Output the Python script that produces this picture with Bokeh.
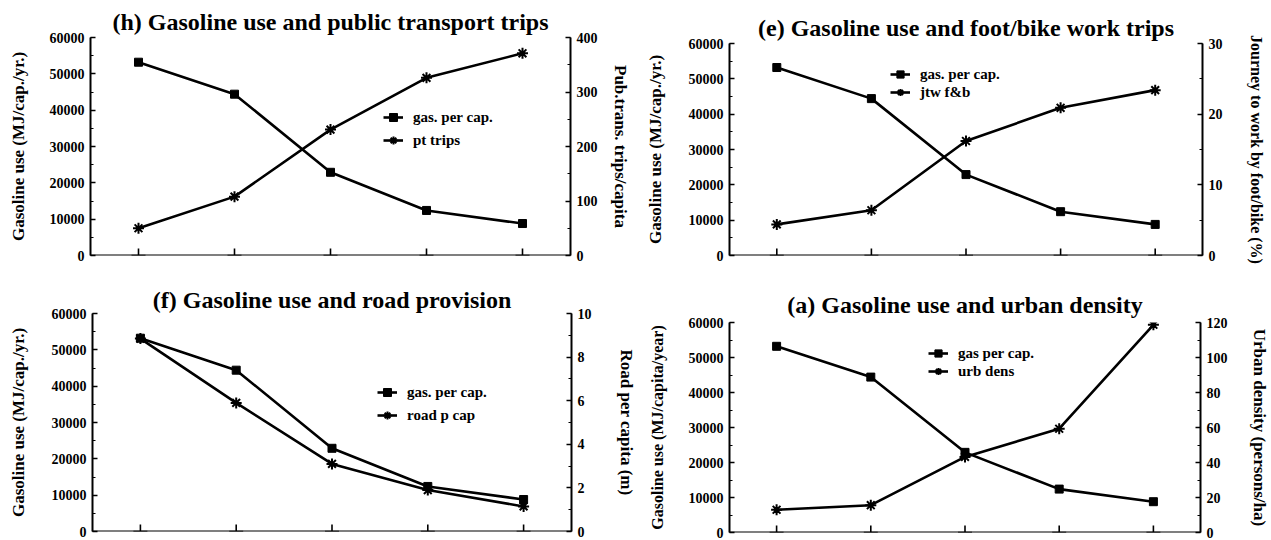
from bokeh.plotting import figure
from bokeh.models import (Range1d, LinearAxis, SingleIntervalTicker, Span,
                          Legend, LegendItem)
from bokeh.layouts import column, row
from bokeh.embed import file_html
from bokeh.resources import INLINE

# ---------------- data ----------------
groups = [1, 2, 3, 4, 5]
gas_per_cap = [53200, 44400, 22900, 12400, 8800]      # MJ/cap./yr.
pt_trips = [50, 108, 231, 326, 371]                    # trips/capita
jtw_fb = [4.4, 6.4, 16.2, 20.9, 23.4]                  # %
road_p_cap = [8.85, 5.9, 3.1, 1.9, 1.15]               # m
urb_dens = [13.0, 15.6, 43.2, 59.3, 118.7]             # persons/ha

FONT = "Liberation Serif"


def panel(title, second, second_max, second_step, left_label, right_label,
          labels, g):
    p = figure(width=g["w"], height=g["h"], output_backend="svg",
               toolbar_location=None, title=title,
               x_range=Range1d(0.5, 5.5), y_range=Range1d(0, 60000),
               min_border_left=g["bl"], min_border_right=g["br"],
               min_border_top=g["bt"], min_border_bottom=g["bb"])
    p.outline_line_color = None
    p.xgrid.visible = False
    p.ygrid.visible = False
    p.xaxis.visible = False

    p.title.text_font = FONT
    p.title.text_font_size = "24px"
    p.title.text_font_style = "bold"
    p.title.text_color = "black"
    p.title.align = "center"
    p.title.standoff = g["ts"]

    # bottom axis line and inward category ticks
    p.add_layout(Span(location=p.y_range.start, dimension="width",
                      line_color="black", line_width=2))
    p.scatter(groups, [p.y_range.start] * len(groups), marker="cross",
              size=14, line_color="black", line_width=1.6)

    # left axis
    ya = p.yaxis[0]
    ya.ticker = SingleIntervalTicker(interval=10000, num_minor_ticks=2)
    ya.axis_label = left_label
    ya.axis_label_standoff = g["lls"]
    ya.axis_label_text_font_size = g.get("lfs", "17px")

    p.extra_y_ranges = {"r": Range1d(0, second_max)}
    ra = LinearAxis(y_range_name="r",
                    ticker=SingleIntervalTicker(interval=second_step, num_minor_ticks=2),
                    axis_label=right_label)
    ra.axis_label_standoff = g["rls"]
    ra.axis_label_text_font_size = g.get("rfs", "17px")
    p.add_layout(ra, "right")

    for ax in (ya, ra):
        ax.axis_line_width = 2
        ax.axis_line_color = "black"
        ax.major_tick_in = 5
        ax.major_tick_out = 0
        ax.minor_tick_in = 3
        ax.minor_tick_out = 0
        ax.major_tick_line_width = 1.5
        ax.minor_tick_line_width = 1.2
        ax.major_label_standoff = 6
        ax.major_label_text_font = FONT
        ax.major_label_text_font_size = "14px"
        ax.major_label_text_font_style = "bold"
        ax.major_label_text_color = "black"
        ax.axis_label_text_font = FONT
        ax.axis_label_text_font_style = "bold"
        ax.axis_label_text_color = "black"

    l1 = p.line(groups, gas_per_cap, line_color="black", line_width=2.6)
    s1 = p.scatter(groups, gas_per_cap, marker="square", size=8,
                   fill_color="black", line_color="black")
    l2 = p.line(groups, second, y_range_name="r", line_color="black",
                line_width=2.6)
    s2 = p.scatter(groups, second, y_range_name="r", marker="asterisk",
                   size=11, line_color="black", line_width=2)

    fh = g["h"] - g["bt"] - g["bb"]
    leg = Legend(items=[LegendItem(label=labels[0], renderers=[l1, s1]),
                        LegendItem(label=labels[1], renderers=[l2, s2])],
                 location=(g["lx"], fh - g["ltop"] - g["lht"]),
                 padding=0, margin=0, spacing=g["sp"],
                 label_height=g["lh"], glyph_height=g["lh"], glyph_width=20,
                 label_standoff=10,
                 label_text_font=FONT, label_text_font_size="15px",
                 label_text_font_style="bold", label_text_color="black",
                 background_fill_alpha=0, border_line_color=None)
    p.add_layout(leg)
    return p


ph = panel("(h) Gasoline use and public transport trips", pt_trips, 400, 100,
           "Gasoline use (MJ/cap./yr.)", "Pub.trans. trips/capita",
           ["gas. per cap.", "pt trips"],
           dict(w=638, h=270, bl=90, br=68, bt=37, bb=15, ts=5, lls=19, rls=10,
                lx=293, ltop=70, lht=43, lh=20, sp=3))

pe = panel("(e) Gasoline use and foot/bike work trips", jtw_fb, 30, 10,
           "Gasoline use (MJ/cap./yr.)", "Journey to work by foot/bike (%)",
           ["gas. per cap.", "jtw f&b"],
           dict(w=632, h=270, bl=91, br=68, bt=43, bb=15, ts=6, lls=21, rls=22,
                rfs="16px", lx=161, ltop=22, lht=36, lh=18, sp=0))

pf = panel("(f) Gasoline use and road provision", road_p_cap, 10, 2,
           "Gasoline use (MJ/cap./yr.)", "Road per capita (m)",
           ["gas. per cap.", "road p cap"],
           dict(w=641, h=269, bl=92, br=70, bt=43, bb=8, ts=1, lls=21, rls=22,
                lx=285, ltop=69, lht=43, lh=20, sp=3))

pa = panel("(a) Gasoline use and urban density", urb_dens, 120, 20,
           "Gasoline use (MJ/capita/year)", "Urban density (persons/ha)",
           ["gas per cap.", "urb dens"],
           dict(w=630, h=269, bl=88, br=69, bt=52, bb=7, ts=9, lls=20, rls=19,
                lfs="16px", lx=199, ltop=22, lht=36, lh=18, sp=0))

layout = column(row(column(ph), column(pe)), row(column(pf), column(pa)))
open("out.html", "w").write(file_html(layout, INLINE))
